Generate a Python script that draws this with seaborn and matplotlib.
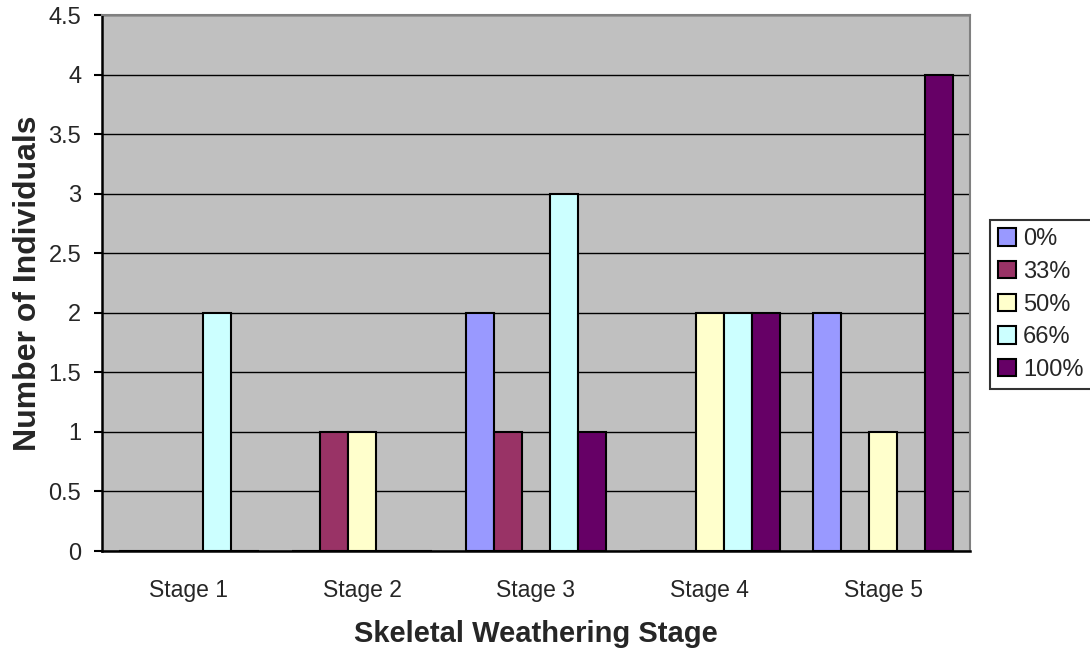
import matplotlib
matplotlib.use("Agg")
import matplotlib.pyplot as plt
import seaborn as sns
import pandas as pd
import numpy as np
from matplotlib.patches import Patch

stages = ["Stage 1", "Stage 2", "Stage 3", "Stage 4", "Stage 5"]
series = ["0%", "33%", "50%", "66%", "100%"]
v_0 = [0, 0, 2, 0, 2]
v_33 = [0, 1, 1, 0, 0]
v_50 = [0, 1, 0, 2, 1]
v_66 = [2, 0, 3, 2, 0]
v_100 = [0, 0, 1, 2, 4]
colors = ["#9999FF", "#993366", "#FFFFCC", "#CCFFFF", "#660066"]
yticks = [0, 0.5, 1, 1.5, 2, 2.5, 3, 3.5, 4, 4.5]

values = [v_0, v_33, v_50, v_66, v_100]
rows = []
for s, vals in zip(series, values):
    for st, v in zip(stages, vals):
        rows.append({"stage": st, "pct": s, "count": v})
df = pd.DataFrame(rows)

sns.set_theme(style="white")
plt.rcParams["font.family"] = ["Liberation Sans", "DejaVu Sans"]

fig = plt.figure(figsize=(10.9, 6.49), dpi=100)
ax = fig.add_axes([102/1090, 1 - 551/649, (970-102)/1090, (551-15)/649])
ax.set_facecolor("#C0C0C0")

sns.barplot(data=df, x="stage", y="count", hue="pct", hue_order=series,
            order=stages, palette=colors, width=0.806, gap=0,
            edgecolor="black", linewidth=1.5, saturation=1, ax=ax,
            legend=False, zorder=3)

ax.set_ylim(0, 4.5)
ax.set_xlim(-0.5, 4.5)
ax.set_yticks(yticks)
ax.set_yticklabels([("%g" % t) for t in yticks], fontsize=17)
ax.yaxis.grid(True, color="black", linewidth=1.0, zorder=1)
ax.set_axisbelow(True)

ax.set_xticks(range(len(stages)))
ax.set_xticklabels(stages, fontsize=16.5)
ax.set_xticks(np.arange(-0.5, 5.0, 1.0), minor=True)
ax.tick_params(axis="x", which="major", length=0, pad=20)
ax.tick_params(axis="x", which="minor", length=7, width=1.5, color="black", direction="out")
ax.tick_params(axis="y", which="major", length=6, width=1.5, color="black", direction="out", left=True, pad=9)

for side in ["left", "bottom"]:
    ax.spines[side].set_color("black")
    ax.spines[side].set_linewidth(1.8)
for side in ["top", "right"]:
    ax.spines[side].set_color("#808080")
    ax.spines[side].set_linewidth(1.5)
    ax.spines[side].set_visible(True)

ax.set_xlabel("Skeletal Weathering Stage", fontsize=21, fontweight="bold", labelpad=13)
ax.set_ylabel("Number of Individuals", fontsize=23, fontweight="bold", labelpad=4)

handles = [Patch(facecolor=c, edgecolor="black", linewidth=1.5) for c in colors]
leg = fig.legend(handles, series, loc="upper left",
                 bbox_to_anchor=(990/1090, 1 - 220/649), fontsize=17,
                 frameon=True, fancybox=False, edgecolor="black",
                 handlelength=0.75, handleheight=0.75, handletextpad=0.3,
                 labelspacing=0.45, borderpad=0.35, borderaxespad=0)
leg.get_frame().set_linewidth(1.5)

fig.savefig("out.png", dpi=100, facecolor="white")
